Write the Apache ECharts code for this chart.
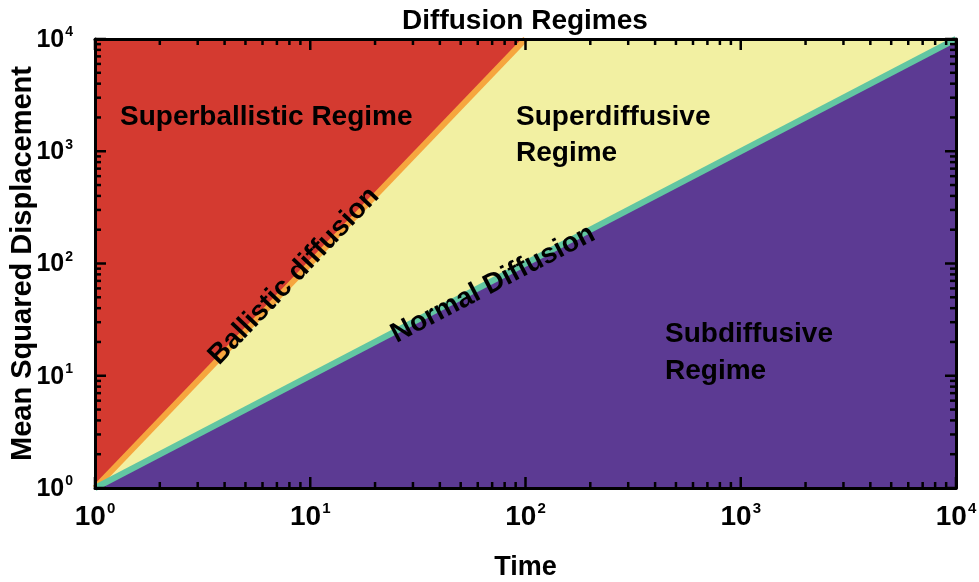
<!DOCTYPE html>
<html>
<head>
<meta charset="utf-8">
<script src="https://cdn.jsdelivr.net/npm/echarts@6/dist/echarts.min.js"></script>
<style>html,body{margin:0;padding:0;background:#fff}#c{width:979px;height:582px}</style>
</head>
<body>
<div id="c"></div>
<script>
// ---- data ----
const ballisticTime = [1, 100];
const ballisticMSD = [1, 10000];
const normalTime = [1, 10000];
const normalMSD = [1, 10000];
const superdiffTime = [1, 100, 10000];   // upper boundary of superdiffusive region
const superdiffMSD = [1, 10000, 10000];
const majorTicks = [1, 10, 100, 1000, 10000];
const minorTicks = [2,3,4,5,6,7,8,9,20,30,40,50,60,70,80,90,200,300,400,500,600,700,800,900,2000,3000,4000,5000,6000,7000,8000,9000];

const FONT = '"Liberation Sans", Arial, sans-serif';
const C = { red:'#D43A30', orange:'#F6A63E', yellow:'#F2F0A2', teal:'#62C6A2', purple:'#5C3A93' };

function pairs(xs, ys){ return xs.map((x,i)=>[x, ys[i]]); }

const xTickData = majorTicks.map(v=>[v,1,1]).concat(minorTicks.map(v=>[v,1,0]));
const yTickData = majorTicks.map(v=>[1,v,1]).concat(minorTicks.map(v=>[1,v,0]));

function tickRender(isX){
  return function(params, api){
    const cs = params.coordSys;
    const p = api.coord([api.value(0), api.value(1)]);
    const len = api.value(2) ? 11 : 6;
    const st = { stroke:'#000', lineWidth:2.5 };
    if (isX) {
      return { type:'group', children:[
        { type:'line', shape:{x1:p[0], y1:cs.y+cs.height, x2:p[0], y2:cs.y+cs.height-len}, style:st },
        { type:'line', shape:{x1:p[0], y1:cs.y, x2:p[0], y2:cs.y+len}, style:st }
      ]};
    }
    return { type:'group', children:[
      { type:'line', shape:{x1:cs.x, y1:p[1], x2:cs.x+len, y2:p[1]}, style:st },
      { type:'line', shape:{x1:cs.x+cs.width, y1:p[1], x2:cs.x+cs.width-len, y2:p[1]}, style:st }
    ]};
  };
}

function rich(main, sup, pad){
  return {
    b:{ fontSize:main, fontWeight:'bold', fontFamily:FONT, color:'#000', verticalAlign:'bottom' },
    s:{ fontSize:sup, fontWeight:'bold', fontFamily:FONT, color:'#000', verticalAlign:'bottom', padding:[0,0,pad,1] }
  };
}
const fmt = v => '{b|10}{s|' + Math.round(Math.log10(v)) + '}';

const chart = echarts.init(document.getElementById('c'), null, {renderer:'canvas'});
const labelStyle = { fontFamily:FONT, fontWeight:'bold', color:'#000', fontSize:28 };

chart.setOption({
  backgroundColor:'#fff',
  animation:false,
  title:{ text:'Diffusion Regimes', left:520, textAlign:'center', top:2,
    textStyle:{ fontFamily:FONT, fontWeight:'bold', fontSize:28, color:'#000' } },
  grid:{ left:95, right:23, top:39, bottom:94, show:true, backgroundColor:C.red, borderWidth:0,
    containLabel:false, outerBoundsMode:'none' },
  xAxis:[
    { type:'log', logBase:10, min:1, max:10000, z:10,
      name:'Time', nameLocation:'middle', nameGap:66, nameMoveOverlap:false,
      nameTextStyle:{ fontFamily:FONT, fontWeight:'bold', fontSize:27, color:'#000' },
      axisLine:{ show:true, onZero:false, lineStyle:{ color:'#000', width:3 } },
      axisTick:{ show:false }, splitLine:{ show:false }, minorTick:{show:false},
      axisLabel:{ formatter:fmt, rich:rich(28, 15, 15), margin:13, showMinLabel:true, showMaxLabel:true } },
    { type:'log', logBase:10, min:1, max:10000, position:'top', z:10,
      axisLine:{ show:true, onZero:false, lineStyle:{ color:'#000', width:3 } },
      axisTick:{ show:false }, axisLabel:{ show:false }, splitLine:{ show:false } }
  ],
  yAxis:[
    { type:'log', logBase:10, min:1, max:10000, z:10,
      name:'Mean Squared Displacement', nameLocation:'middle', nameGap:58, nameMoveOverlap:false,
      nameTextStyle:{ fontFamily:FONT, fontWeight:'bold', fontSize:29, color:'#000' },
      axisLine:{ show:true, onZero:false, lineStyle:{ color:'#000', width:3 } },
      axisTick:{ show:false }, splitLine:{ show:false },
      axisLabel:{ formatter:fmt, rich:rich(25, 14, 13), margin:22, showMinLabel:true, showMaxLabel:true } },
    { type:'log', logBase:10, min:1, max:10000, position:'right', z:10,
      axisLine:{ show:true, onZero:false, lineStyle:{ color:'#000', width:3 } },
      axisTick:{ show:false }, axisLabel:{ show:false }, splitLine:{ show:false } }
  ],
  series:[
    { type:'line', data:pairs(superdiffTime, superdiffMSD), symbol:'none', z:1,
      lineStyle:{ width:0 }, areaStyle:{ color:C.yellow, opacity:1, origin:'start' } },
    { type:'line', data:pairs(normalTime, normalMSD), symbol:'none', z:2,
      lineStyle:{ width:0 }, areaStyle:{ color:C.purple, opacity:1, origin:'start' } },
    { type:'line', data:pairs(ballisticTime, ballisticMSD), symbol:'none', z:3,
      lineStyle:{ width:6, color:C.orange } },
    { type:'line', data:pairs(normalTime, normalMSD), symbol:'none', z:3,
      lineStyle:{ width:6, color:C.teal } },
    { type:'custom', renderItem:tickRender(true), data:xTickData, z:6, clip:false, silent:true },
    { type:'custom', renderItem:tickRender(false), data:yTickData, z:6, clip:false, silent:true }
  ],
  graphic:[
    { type:'text', left:120, top:103, z:20, style:Object.assign({ text:'Superballistic Regime' }, labelStyle) },
    { type:'text', left:516, top:99, z:20, style:Object.assign({ text:'Superdiffusive\nRegime', lineHeight:36 }, labelStyle) },
    { type:'text', left:665, top:316, z:20, style:Object.assign({ text:'Subdiffusive\nRegime', lineHeight:37 }, labelStyle) },
    { type:'text', x:294, y:276, rotation:46.3*Math.PI/180, z:20,
      style:Object.assign({ text:'Ballistic diffusion', textAlign:'center', textVerticalAlign:'middle' }, labelStyle) },
    { type:'text', x:493, y:284, rotation:27.5*Math.PI/180, z:20,
      style:Object.assign({ text:'Normal Diffusion', textAlign:'center', textVerticalAlign:'middle' }, labelStyle) }
  ]
});
</script>
</body>
</html>
